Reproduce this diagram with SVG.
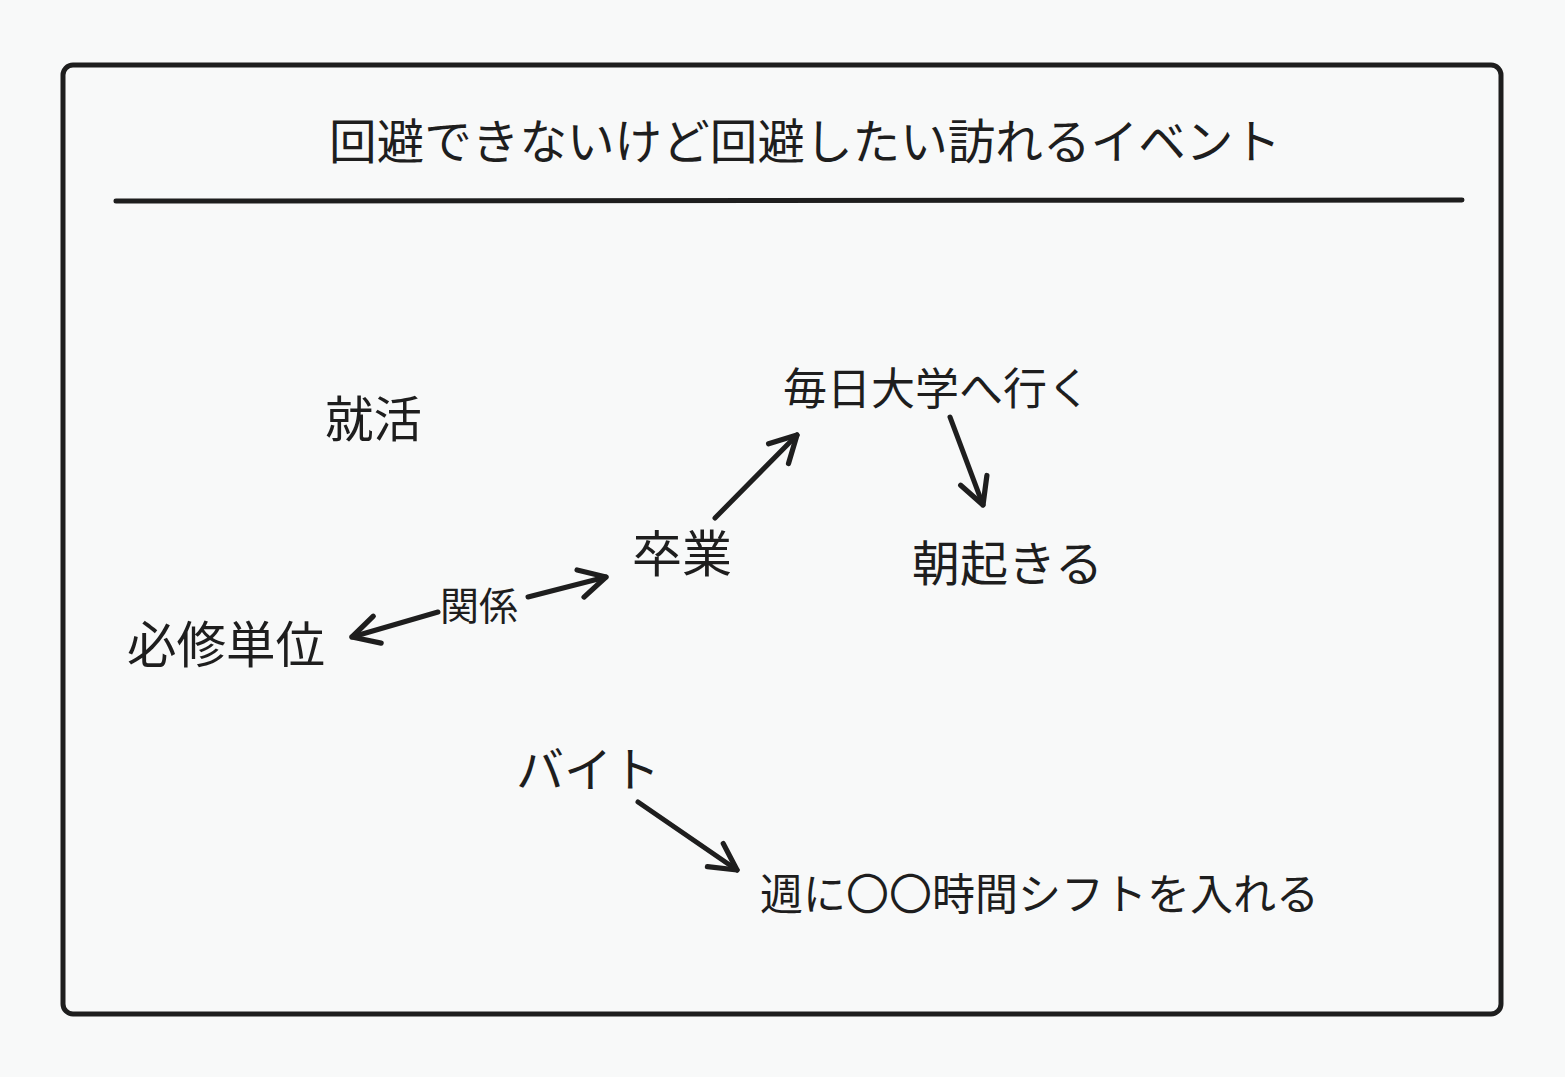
<svg xmlns="http://www.w3.org/2000/svg" width="1565" height="1077" viewBox="0 0 1565 1077">
<defs>
<marker id="ah" viewBox="0 0 20 20" refX="17" refY="10" markerWidth="7" markerHeight="7" orient="auto-start-reverse" markerUnits="strokeWidth">
<path d="M2 2 L17 10 L2 18" fill="none" stroke="#1e1e1e" stroke-width="3" stroke-linecap="round" stroke-linejoin="round"/>
</marker>
<style>
text{font-family:"Noto Sans CJK JP","Noto Sans",sans-serif;fill:#1e1e1e;dominant-baseline:central}
.c{stroke:#1e1e1e;stroke-width:5;fill:none;stroke-linecap:round}
</style>
</defs>
<rect width="1565" height="1077" fill="#f8f9f9"/>
<g id="frame">
<rect x="63" y="65" width="1438" height="949" rx="10" fill="none" stroke="#1e1e1e" stroke-width="5"/>
<line x1="116" y1="201" x2="1462" y2="200" class="c"/>
<text x="805" y="138" font-size="47.6" text-anchor="middle">回避できないけど回避したい訪れるイベント</text>
</g>
<g id="n1"><text x="325" y="416" font-size="48.5">就活</text></g>
<g id="n2"><text x="783" y="386" font-size="44">毎日大学へ行く</text></g>
<g id="n3"><text x="632" y="550" font-size="50">卒業</text></g>
<g id="n4"><text x="912" y="560" font-size="48">朝起きる</text></g>
<g id="n5"><text x="127" y="641" font-size="49.5">必修単位</text></g>
<g id="n6"><text x="516" y="766" font-size="48">バイト</text></g>
<g id="n7"><text x="760" y="891" font-size="43">週に〇〇時間シフトを入れる</text></g>
<g id="connectors">
<line x1="715" y1="518" x2="797" y2="435" class="c" marker-end="url(#ah)"/>
<line x1="950" y1="417" x2="983" y2="505" class="c" marker-end="url(#ah)"/>
<line x1="528" y1="597" x2="606" y2="577" class="c" marker-end="url(#ah)"/>
<line x1="438" y1="612" x2="352" y2="637" class="c" marker-end="url(#ah)"/>
<line x1="638" y1="802" x2="737" y2="870" class="c" marker-end="url(#ah)"/>
<text x="479" y="603" font-size="39" text-anchor="middle">関係</text>
</g>
</svg>
